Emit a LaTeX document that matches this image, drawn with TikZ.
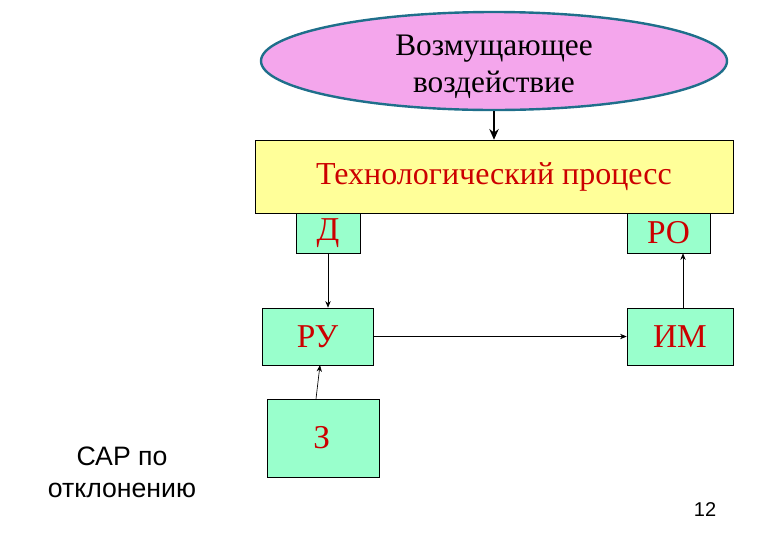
\documentclass[tikz,border=0pt]{standalone}
\usepackage{fontspec}
\setmainfont{Liberation Serif}
\newfontfamily\sansf{Liberation Sans}
\usetikzlibrary{shapes.geometric,arrows.meta}
\definecolor{pinkf}{HTML}{F4A6EC}
\definecolor{ellb}{HTML}{1F6F8B}
\definecolor{yel}{HTML}{FFFF99}
\definecolor{mint}{HTML}{99FFCC}
\definecolor{txtred}{HTML}{CC0000}
\begin{document}
\begin{tikzpicture}[x=0.75pt,y=-0.75pt,
  box/.style={draw=black,fill=mint,minimum width=#1,inner sep=0pt,font=\fontsize{25}{25}\selectfont,text=txtred},
  conn/.style={-{Stealth[length=5pt,width=4pt]},line width=0.5pt}]
\useasboundingbox (0,0) rectangle (780,540);
\node[ellipse,draw=ellb,line width=1.8pt,fill=pinkf,minimum width=466*0.75pt,minimum height=98*0.75pt,inner sep=0pt] (ell) at (494,61) {};
\node[align=center,font=\fontsize{23.5}{28}\selectfont] (elltxt) at (494,67) {Возмущающее\\воздействие};
\node[draw=black,fill=yel,minimum width=478*0.75pt,minimum height=73*0.75pt,font=\fontsize{24}{24}\selectfont,text=txtred] (tp) at (494,176.5) {Технологический процесс};
\node[box=64*0.75pt,minimum height=40*0.75pt] (d) at (328,233) {Д};
\node[box=83*0.75pt,minimum height=40*0.75pt] (ro) at (668.5,233) {РО};
\node[box=111*0.75pt,minimum height=57*0.75pt] (ru) at (317.5,336.5) {РУ};
\node[box=106*0.75pt,minimum height=57*0.75pt] (im) at (680,336.5) {ИМ};
\node[box=112*0.75pt,minimum height=78*0.75pt] (z) at (323,438) {\hspace*{-2pt}З};
\draw[-{Stealth[length=8pt,width=7pt]},line width=2pt] (ell.south) -- (tp.north);
\draw[conn] (d.south) -- (ru.north -| d.south);
\draw[conn] (ru.east) -- (im.west);
\draw[conn] (im.north -| 683,0) -- (ro.south -| 683,0);
\draw[conn] (z.north -| 316,0) -- (320,365);
\node[font=\sansf\fontsize{20}{24}\selectfont,align=center] (sar) at (122,472) {САР по\\отклонению};
\node[font=\sansf\fontsize{15}{16}\selectfont] (num) at (705,510) {12};
\end{tikzpicture}
\end{document}
